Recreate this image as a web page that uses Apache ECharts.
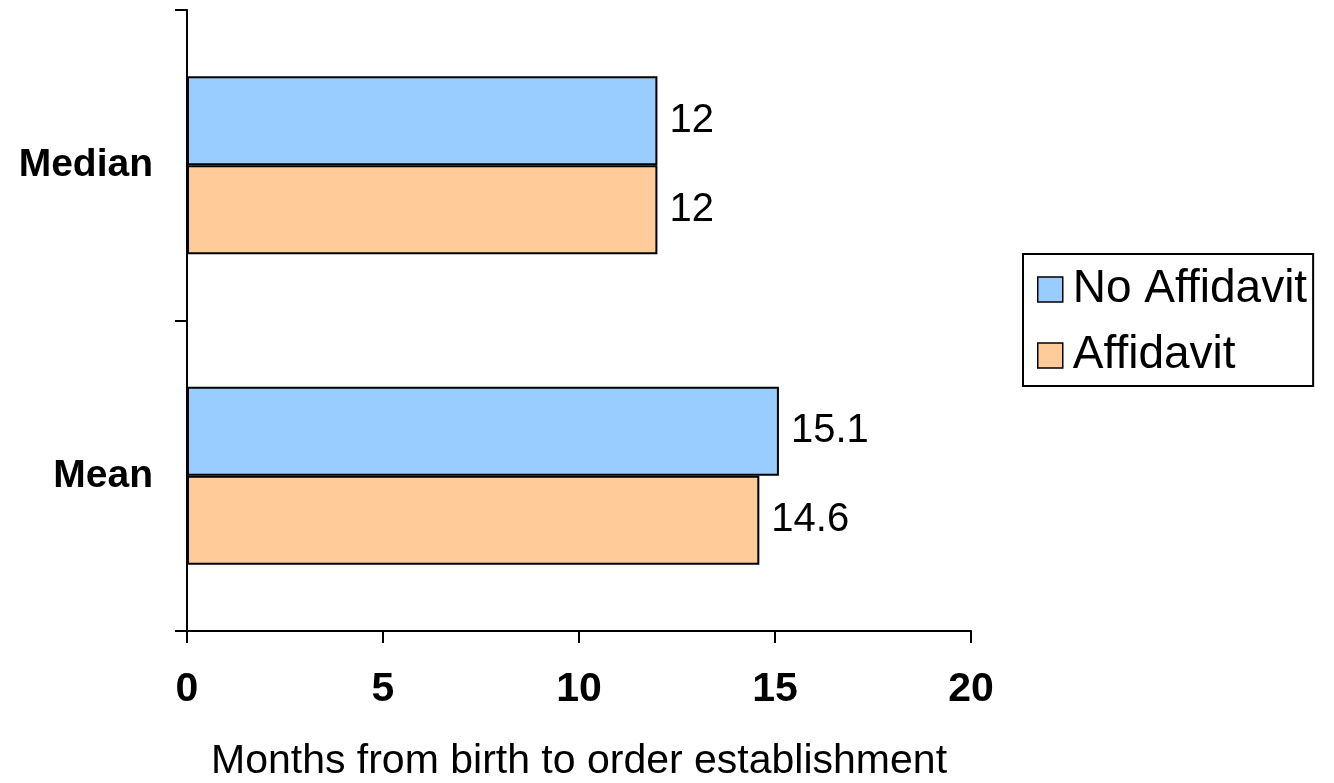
<!DOCTYPE html>
<html>
<head>
<meta charset="utf-8">
<script src="https://cdn.jsdelivr.net/npm/echarts@6/dist/echarts.min.js"></script>
<style>
html,body{margin:0;padding:0;background:#fff;}
#chart{width:1334px;height:783px;}
</style>
</head>
<body>
<div id="chart"></div>
<script>
var categories = ['Mean', 'Median'];
var seriesNames = ['No Affidavit', 'Affidavit'];
var noAffidavit = [15.1, 12];
var affidavit = [14.6, 12];
var xTicks = [0, 5, 10, 15, 20];
var xTitle = 'Months from birth to order establishment';

var FONT = '"Liberation Sans", Arial, sans-serif';
var chart = echarts.init(document.getElementById('chart'), null, {renderer: 'canvas'});

function labelCfg() {
  return {
    show: true, position: 'right', distance: 12,
    fontFamily: FONT, fontSize: 40, color: '#000',
    formatter: function (p) { return String(p.value); }
  };
}

chart.setOption({
  animation: false,
  backgroundColor: '#fff',
  grid: {left: 187, right: 363, top: 10, bottom: 152, outerBoundsMode: 'none', containLabel: false},
  legend: {
    orient: 'vertical',
    left: 1023, top: 254,
    padding: [12, 6, 7, 14],
    itemWidth: 25, itemHeight: 25, itemGap: 19,
    borderColor: '#000', borderWidth: 2,
    icon: 'rect',
    itemStyle: {borderColor: '#000', borderWidth: 1.5},
    textStyle: {fontFamily: FONT, fontSize: 46, color: '#000', padding: [0, 0, 0, 5], lineHeight: 47},
    data: seriesNames
  },
  xAxis: {
    type: 'value', min: xTicks[0], max: xTicks[xTicks.length - 1], interval: 5,
    name: xTitle, nameLocation: 'middle', nameGap: 110,
    nameTextStyle: {fontFamily: FONT, fontSize: 41, color: '#000'},
    axisLine: {show: true, lineStyle: {color: '#000', width: 2}},
    axisTick: {show: true, inside: false, length: 12, lineStyle: {color: '#000', width: 2}},
    splitLine: {show: false},
    axisLabel: {margin: 38, fontFamily: FONT, fontSize: 41, fontWeight: 'bold', color: '#000'}
  },
  yAxis: {
    type: 'category', data: categories,
    axisLine: {show: true, lineStyle: {color: '#000', width: 2}},
    axisTick: {show: true, length: 12, lineStyle: {color: '#000', width: 2}},
    axisLabel: {margin: 34, fontFamily: FONT, fontSize: 39, fontWeight: 'bold', color: '#000'}
  },
  series: [
    {
      name: seriesNames[0], type: 'bar', data: noAffidavit,
      barGap: '0%', barCategoryGap: '42.7%',
      itemStyle: {color: '#99CCFF', borderColor: '#000', borderWidth: 2},
      label: labelCfg()
    },
    {
      name: seriesNames[1], type: 'bar', data: affidavit,
      barGap: '0%', barCategoryGap: '42.7%',
      itemStyle: {color: '#FFCC99', borderColor: '#000', borderWidth: 2},
      label: labelCfg()
    }
  ]
});
</script>
</body>
</html>
